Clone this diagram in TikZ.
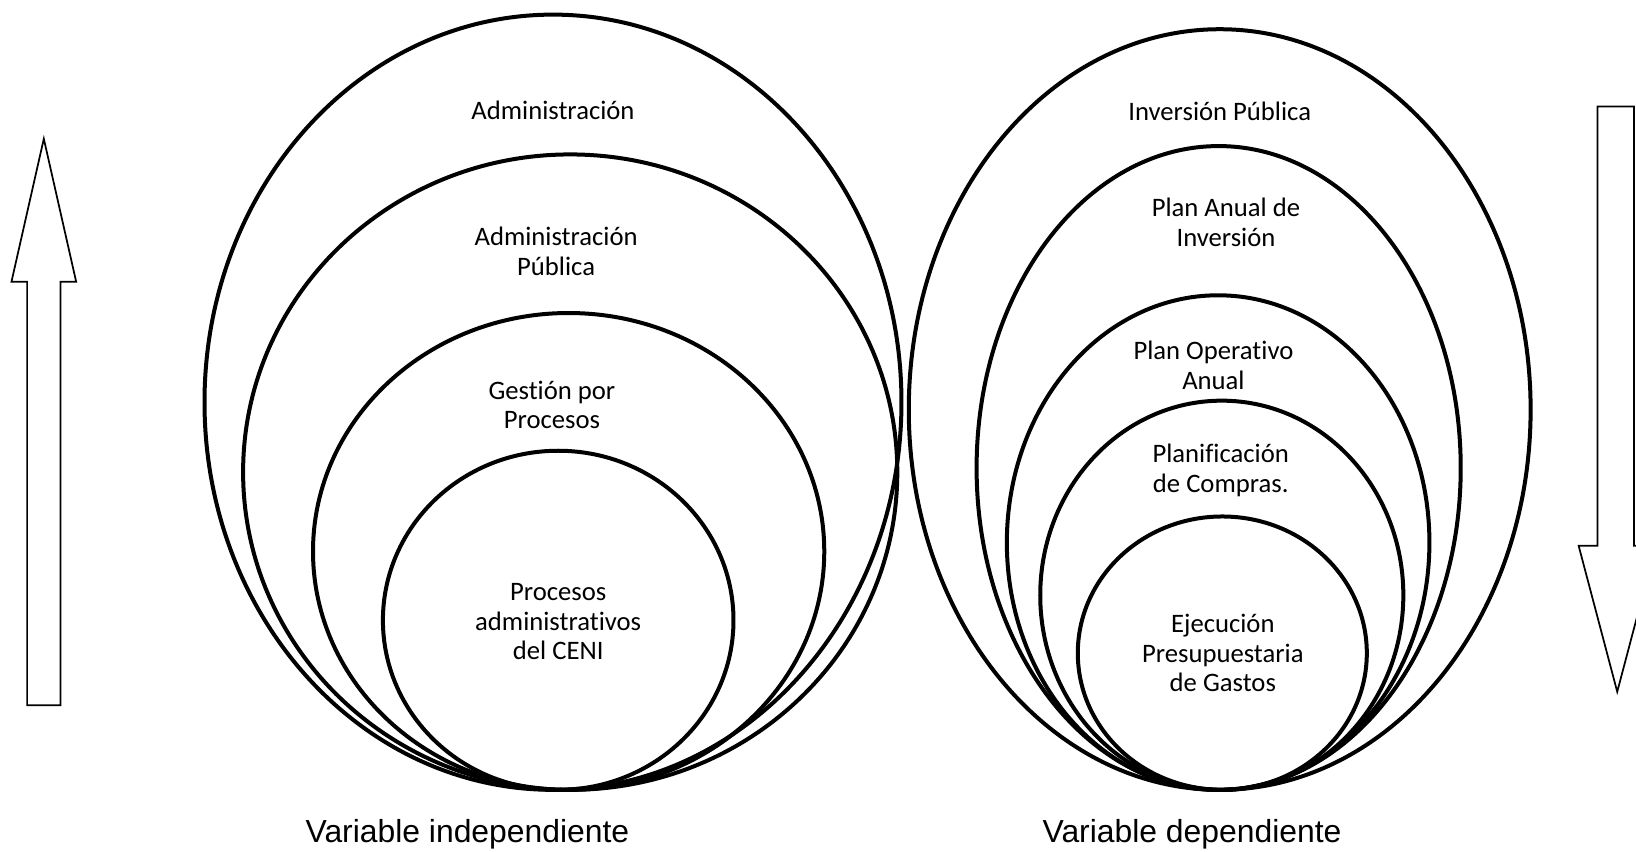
\documentclass[tikz,border=0pt]{standalone}
\usepackage{fontspec}
\setmainfont{Carlito}[Ligatures=NoCommon]
\newfontfamily\arialfont{Liberation Sans}

\begin{document}
\begin{tikzpicture}[x=0.7825pt,y=-0.7825pt,
    ring/.style={line width=3pt},
    bigarrow/.style={line width=1.3pt, line join=miter},
    tag/.style={align=center, font=\fontsize{20}{22.2}\selectfont, inner sep=0pt},
    varlabel/.style={font=\arialfont\fontsize{23.9}{28}\selectfont, inner sep=0pt}]
    \useasboundingbox (0,0) rectangle (1568,816);
    % independiente
    \draw[ring] (530,385.5) ellipse [x radius=334, y radius=371.5];
    \draw[ring] (546.5,452.5) ellipse [x radius=313.5, y radius=304.5];
    \draw[ring] (545,528.5) ellipse [x radius=245, y radius=228.5];
    \draw[ring] (535,594.5) ellipse [x radius=168, y radius=162.5];
    \node[tag] (admin) at (530,106) {Administración};
    \node[tag] (adminpub) at (533,241) {Administración\\Pública};
    \node[tag] (gestion) at (529,388) {Gestión por\\Procesos};
    \node[tag] (procesos) at (535,596) {Procesos\\administrativos\\del CENI};
    % dependiente
    \draw[ring] (1169,392.5) ellipse [x radius=298, y radius=364.5];
    \draw[ring] (1168,448.5) ellipse [x radius=232, y radius=308.5];
    \draw[ring] (1167.5,520) ellipse [x radius=202.5, y radius=237];
    \draw[ring] (1171,570.5) ellipse [x radius=174, y radius=186.5];
    \draw[ring] (1171.5,626) ellipse [x radius=138.5, y radius=131];
    \node[tag] (inversion) at (1169,107) {Inversión Pública};
    \node[tag] (paninv) at (1175,213) {Plan Anual de\\Inversión};
    \node[tag] (poa) at (1163,350) {Plan Operativo\\Anual};
    \node[tag] (compras) at (1170,451) {Planificación\\de Compras.};
    \node[tag] (ejecucion) at (1172,626) {Ejecución\\Presupuestaria\\de Gastos};
    % flechas
    \draw[bigarrow] (26,676) -- (26,270) -- (11,270) -- (42,133) -- (73,270) -- (58,270) -- (58,676) -- cycle;
    \draw[bigarrow] (1531,102) -- (1566,102) -- (1566,523) -- (1587,523) -- (1550,663) -- (1513,523) -- (1531,523) -- cycle;
    \node[varlabel] (varind) at (448,800) {Variable independiente};
    \node[varlabel] (vardep) at (1142.5,800) {Variable dependiente};
\end{tikzpicture}
\end{document}
